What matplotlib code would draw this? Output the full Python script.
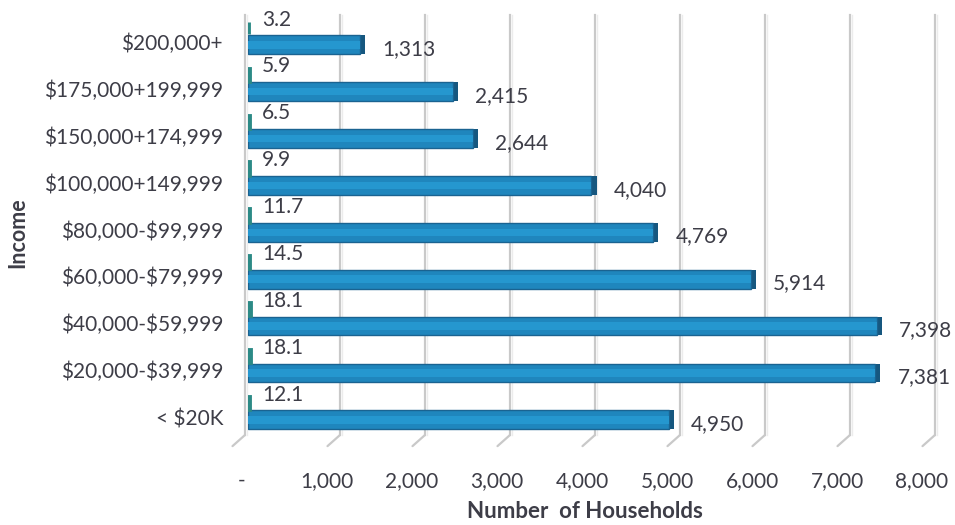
import matplotlib.pyplot as plt
import matplotlib.transforms as mtransforms
import numpy as np

categories = ["< $20K", "$20,000-$39,999", "$40,000-$59,999", "$60,000-$79,999",
              "$80,000-$99,999", "$100,000+149,999", "$150,000+174,999",
              "$175,000+199,999", "$200,000+"]
households = [4950, 7381, 7398, 5914, 4769, 4040, 2644, 2415, 1313]
percent = [12.1, 18.1, 18.1, 14.5, 11.7, 9.9, 6.5, 5.9, 3.2]
xticks = [0, 1000, 2000, 3000, 4000, 5000, 6000, 7000, 8000]
xticklabels = ["-", "1,000", "2,000", "3,000", "4,000", "5,000", "6,000", "7,000", "8,000"]

plt.rcParams['font.family'] = ['Lato', 'DejaVu Sans']
plt.rcParams['text.parse_math'] = False
text_color = "#3d3d47"

fig = plt.figure(figsize=(9.55, 5.25), dpi=100)
ax = fig.add_axes([248 / 955, 90 / 525, 680 / 955, 420 / 525])

y = np.arange(len(categories))
dpi_tr = fig.dpi_scale_trans

# back-wall gridlines (shifted right for the 3D look) and floor diagonals
for xt in xticks:
    dx = -3 if xt == 0 else 7
    off = mtransforms.ScaledTranslation(dx / 100, 0, dpi_tr)
    tr = ax.get_xaxis_transform() + off
    ax.plot([xt, xt], [0, 1], transform=tr, color="#c9c9c9", lw=1.6, zorder=0, clip_on=False)
    ax.plot([xt, xt], [0, 1], transform=tr + mtransforms.ScaledTranslation(1.5 / 100, 0, dpi_tr),
            color="#ececec", lw=1.0, zorder=0, clip_on=False)
    ax.annotate("", xy=(xt, 0), xycoords=tr,
                xytext=(-9, -8), textcoords="offset points",
                arrowprops=dict(arrowstyle="-", color="#c9c9c9", lw=1.6, shrinkA=0, shrinkB=0))

# households bars with simple shading
yb = y - 0.06
ax.barh(yb, np.array(households) + 60, height=0.40, color="#16577f", zorder=2)
ax.barh(yb, households, height=0.40, color="#1f86bd", edgecolor="#1a6391", lw=1.0, zorder=3)
ax.barh(yb, households, height=0.16, color="#2597cf", lw=0, zorder=4)

# percent bars (tiny on this scale)
yp = y + 0.30
ax.barh(yp, percent, height=0.26, color="#2c8a86", edgecolor="#2c8a86", lw=3.5, zorder=3)

for yi, v in zip(yb, households):
    ax.annotate(f"{v:,}", xy=(v, yi), xytext=(16, -3), textcoords="offset points",
                ha="left", va="center", fontsize=15, color=text_color)
for yi, v in zip(yp, percent):
    ax.annotate(f"{v}", xy=(0, yi), xytext=(10, 6), textcoords="offset points",
                ha="left", va="center", fontsize=15, color=text_color)

ax.set_xlim(0, 8000)
ax.set_ylim(-0.384, 8.576)
ax.set_xticks(xticks)
ax.set_xticklabels(xticklabels)
ax.set_yticks(y)
ax.set_yticklabels(categories)
ax.tick_params(axis="x", length=0, pad=26, labelsize=15, labelcolor=text_color)
ax.tick_params(axis="y", length=0, pad=18, labelsize=15, labelcolor=text_color)
for lab in ax.get_xticklabels():
    lab.set_transform(lab.get_transform() + mtransforms.ScaledTranslation(-6 / 100, 0, dpi_tr))
for s in ax.spines.values():
    s.set_visible(False)

fig.text(585 / 955, 1 - 512 / 525, "Number  of Households", ha="center", va="center",
         fontsize=16, fontweight="bold", color=text_color)
fig.text(18 / 955, 1 - 233 / 525, "Income", ha="center", va="center", rotation=90,
         fontsize=15.5, fontweight="bold", color=text_color)

fig.savefig("out.png", dpi=100)
